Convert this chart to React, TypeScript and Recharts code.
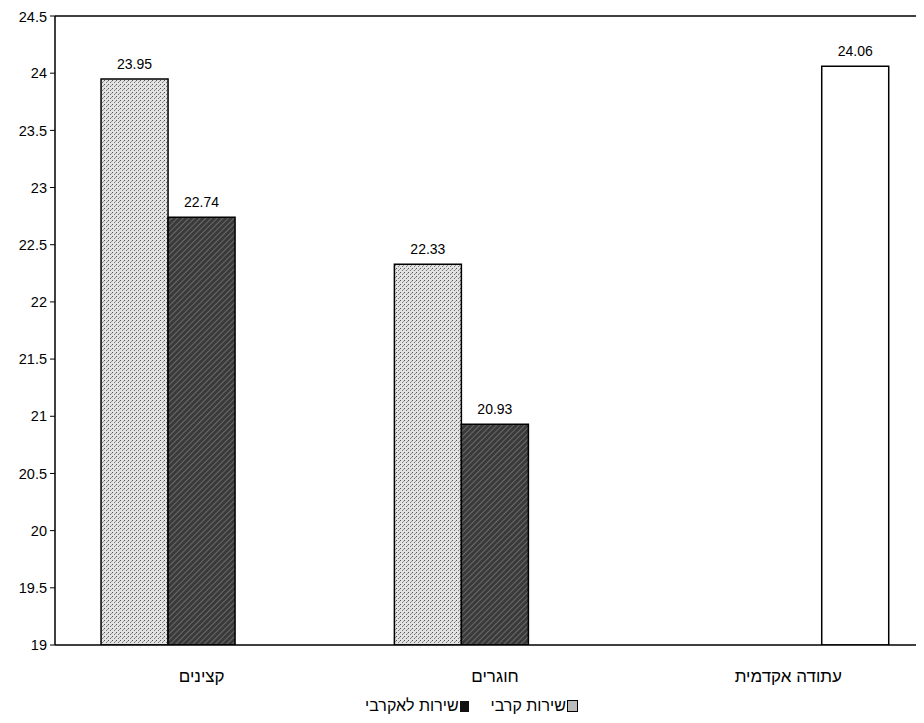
import { BarChart, Bar, XAxis, YAxis, Legend, LabelList, ReferenceLine } from 'recharts';

const categories = ['קצינים', 'חוגרים', 'עתודה אקדמית'];
const combatValues = [23.95, 22.33, null];
const nonCombatValues = [22.74, 20.93, null];
const academicValues = [null, null, 24.06];
const yTicks = [19, 19.5, 20, 20.5, 21, 21.5, 22, 22.5, 23, 23.5, 24, 24.5];

const seriesNames = {
  combat: 'שירות קרבי',
  nonCombat: 'שירות לאקרבי',
};

const data = categories.map((name, i) => ({
  name,
  combat: combatValues[i],
  nonCombat: nonCombatValues[i],
  academic: academicValues[i],
}));

const font = '"Liberation Sans", "DejaVu Sans", Arial, sans-serif';

// Patterns live in a hidden svg; ids are global to the document
const PatternDefs = () => (
  <svg width="0" height="0" style={{ position: 'absolute' }}>
    <defs>
      <pattern id="dots" width="4" height="4" patternUnits="userSpaceOnUse">
        <rect width="4" height="4" fill="#e2e2e2" />
        <rect x="0" y="0" width="1" height="1" fill="#555" />
        <rect x="2" y="2" width="1" height="1" fill="#777" />
        <rect x="3" y="1" width="1" height="1" fill="#999" />
      </pattern>
      <pattern id="hatch" width="4" height="4" patternUnits="userSpaceOnUse" patternTransform="rotate(45)">
        <rect width="4" height="4" fill="#3a3a3a" />
        <line x1="0" y1="0" x2="0" y2="4" stroke="#8a8a8a" strokeWidth="1.2" />
      </pattern>
    </defs>
  </svg>
);

const LegendContent = () => (
  <div style={{ display: 'flex', justifyContent: 'center', alignItems: 'center', fontFamily: font, fontSize: 16, color: '#000', direction: 'ltr', paddingTop: 4 }}>
    <span>{seriesNames.nonCombat}</span>
    <span style={{ display: 'inline-block', width: 9, height: 11, background: '#111', marginLeft: 1, marginRight: 22 }} />
    <span>{seriesNames.combat}</span>
    <span style={{ display: 'inline-block', width: 9, height: 10, background: 'url(#dots)', backgroundColor: '#bbb', border: '1px solid #000', marginLeft: 1 }} />
  </div>
);

const App = () => {
  return (
    <div style={{ width: 916, height: 715, overflow: 'hidden', background: '#fff' }}>
      <PatternDefs />
      <BarChart
        width={940}
        height={715}
        data={data}
        margin={{ top: 8, right: 13, bottom: 0, left: 0 }}
        barGap={0}
        barCategoryGap="15.7%"
      >
        <XAxis
          dataKey="name"
          axisLine={{ stroke: '#000', strokeWidth: 1.5 }}
          tickLine={false}
          tickMargin={19}
          height={48}
          tick={{ fill: '#000', fontSize: 17, fontFamily: font }}
        />
        <YAxis
          domain={[19, 24.5]}
          ticks={yTicks}
          allowDataOverflow
          width={47}
          axisLine={{ stroke: '#000', strokeWidth: 1.5 }}
          tickLine={{ stroke: '#000' }}
          tickSize={5}
          tickMargin={3}
          tick={{ fill: '#000', fontSize: 14.5, fontFamily: font }}
        />
        <ReferenceLine y={24.5} stroke="#000" strokeWidth={1.5} />
        <Legend verticalAlign="bottom" height={30} content={<LegendContent />} />
        <Bar dataKey="combat" name={seriesNames.combat} fill="url(#dots)" stroke="#000" strokeWidth={1.5} isAnimationActive={false}>
          <LabelList dataKey="combat" position="top" offset={10} fill="#000" fontSize={14} fontFamily={font} />
        </Bar>
        <Bar dataKey="nonCombat" name={seriesNames.nonCombat} fill="url(#hatch)" stroke="#000" strokeWidth={1.5} isAnimationActive={false}>
          <LabelList dataKey="nonCombat" position="top" offset={10} fill="#000" fontSize={14} fontFamily={font} />
        </Bar>
        <Bar dataKey="academic" name="עתודה אקדמית" fill="#fff" stroke="#000" strokeWidth={1.5} isAnimationActive={false}>
          <LabelList dataKey="academic" position="top" offset={10} fill="#000" fontSize={14} fontFamily={font} />
        </Bar>
      </BarChart>
    </div>
  );
};

export default App;
